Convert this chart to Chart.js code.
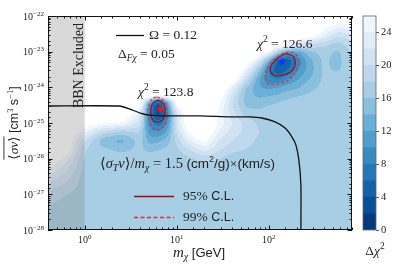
<!DOCTYPE html>
<html>
<head>
<meta charset="utf-8">
<script src="https://cdn.jsdelivr.net/npm/chart.js@4.4.1/dist/chart.umd.min.js"></script>
<style>
  html, body { margin: 0; padding: 0; background: #fff; }
  #wrap { position: relative; width: 404px; height: 269px; overflow: hidden; }
  #main { position: absolute; left: 0; top: 0; }
  #cbar { position: absolute; left: 355px; top: 0; }
</style>
</head>
<body>
<div id="wrap">
  <canvas id="main" width="404" height="269"></canvas>
  <canvas id="cbar" width="49" height="269"></canvas>
</div>
<script>
// Δχ² grid (rows: <σv> top to bottom, columns: mass)
const gridMass = [0.4, 0.63, 1, 1.6, 2.5, 4, 5, 6.3, 7.9, 10, 14, 20, 28, 40, 56, 79, 100, 126, 158, 200, 282, 398, 562, 800];
const gridSigv = [1e-22, 3.2e-23, 1.6e-23, 1e-23, 5.6e-24, 3.2e-24, 1.8e-24, 1e-24, 5.6e-25, 4.5e-25,
                  3.2e-25, 1.8e-25, 1e-25, 5.6e-26, 3.2e-26, 1.8e-26, 1e-26, 3.2e-27, 1e-27, 3.2e-28, 1e-28];
const dchi2 = [
  [30,30,30,30,30,30,30,30,30,30,30,30,30,30,30,30,30,30,30,30,30,30,30,30],
  [30,30,30,30,30,30,30,30,30,30,30,30,30,30,30,30,30,30,30,30,29,25,21,22],
  [30,30,30,30,30,30,30,30,30,30,30,30,30,30,30,30,30,30,28,23,20,18.5,17,19],
  [30,30,30,30,30,30,30,30,30,30,30,30,30,30,30,30,26,18,12,12,15.5,17,15.5,18.5],
  [30,30,30,30,30,30,30,30,30,30,30,30,30,30,30,22,13,4.5,3.5,8,13.5,16.5,15,18.5],
  [30,30,30,30,30,30,30,30,30,30,30,30,30,30,25,16,8,3.5,5.5,9.5,13,16.5,15.5,18],
  [30,30,30,30,30,30,30,30,30,30,30,30,30,30,21,12,8.5,7.5,9.5,11.5,14,16.5,17,18],
  [30,30,30,30,30,30,30,30,30,30,30,30,30,24,16,12,11.5,12,13,13.5,15.5,16.5,17.5,18],
  [30,30,30,30,30,30,30,27,30,30,30,30,29,21,15,13.5,14,14.5,15.5,16,16.5,17,17.5,17.5],
  [30,30,30,30,30,30,17,7,16,30,30,30,28,20.5,15,14.5,15,15.5,16,16.5,17,17,17.3,17.3],
  [30,30,30,30,30,28,9.5,1.5,10,27,30,30,27,20,15.5,15.5,16,16.5,17,17,17,17,17,17],
  [30,30,30,30,30,23,8,2.5,8,21,30,30,25.5,21,17,16.5,17,17,17,17,17,17,17,17],
  [30,30,28,27,26,21,9.2,6.5,10,22,30,30,26,22,19.5,17.5,17.5,17,17,17,17,17,17,17],
  [30,30,24,19,17,18.5,11,10,12.5,20,27,30,24,21,19.5,18,17.5,17,17,17,17,17,17,17],
  [30,29,20,14.5,13,17,13,13.5,15,18.5,24,27,22,20,19,17.5,17,17,17,17,17,17,17,17],
  [30,29,18,16.5,15.5,16.5,15.5,16,16.5,17.5,20,23,20.5,18.5,18,17,17,17,17,17,17,17,17,17],
  [29,25,17.5,17,17,17,17,17,17,17,17.5,18.5,18,17,17,17,17,17,17,17,17,17,17,17],
  [24,21,17,17,17,17,17,17,17,17,17,17,17,17,17,17,17,17,17,17,17,17,17,17],
  [19,18,17,17,17,17,17,17,17,17,17,17,17,17,17,17,17,17,17,17,17,17,17,17],
  [17.5,17,17,17,17,17,17,17,17,17,17,17,17,17,17,17,17,17,17,17,17,17,17,17],
  [17,17,17,17,17,17,17,17,17,17,17,17,17,17,17,17,17,17,17,17,17,17,17,17]
];

// relic abundance line Ω = 0.12
const omegaMass = [0.4, 2.4, 3.1, 4.0, 5.1, 8.4, 18, 38, 62, 84, 117, 150, 178, 197, 212, 223, 223];
const omegaSigv = [3.0e-25, 3.0e-25, 2.45e-25, 1.9e-25, 1.66e-25, 1.58e-25, 1.58e-25, 1.48e-25, 1.48e-25,
                   1.38e-25, 1.07e-25, 7.2e-26, 4.1e-26, 2.4e-26, 9.1e-27, 1.8e-27, 1e-28];

// confidence contours around the two minima
const leftCL95Mass = [6.26, 6.92, 7.36, 7.46, 7.27, 6.74, 6.10, 5.52, 5.25, 5.25, 5.52, 6.26];
const leftCL95Sigv = [4.42e-25, 3.88e-25, 2.99e-25, 2.17e-25, 1.47e-25, 1.14e-25, 1.07e-25, 1.21e-25, 1.67e-25, 2.63e-25, 3.63e-25, 4.42e-25];
const leftCL99Mass = [6.10, 6.92, 7.64, 7.83, 7.64, 6.92, 6.10, 5.39, 5.00, 4.87, 5.12, 5.52, 6.10];
const leftCL99Sigv = [5.36e-25, 4.71e-25, 3.40e-25, 2.03e-25, 1.14e-25, 7.24e-26, 6.37e-26, 7.73e-26, 1.21e-25, 2.17e-25, 3.88e-25, 5.02e-25, 5.36e-25];
const rightCL95Mass = [108.2, 125.7, 149.7, 173.9, 189.8, 192.2, 169.7, 142.5, 116.6, 102.9, 108.2];
const rightCL95Sigv = [4.51e-24, 6.64e-24, 8.59e-24, 8.05e-24, 6.64e-24, 3.96e-24, 2.61e-24, 2.22e-24, 2.15e-24, 3.06e-24, 4.51e-24];
const rightCL99Mass = [90.8, 95.5, 108.2, 132.1, 165.5, 187.5, 204.6, 207.2, 192.2, 165.5, 138.9, 113.7, 95.5, 90.8];
const rightCL99Sigv = [1.83e-24, 3.27e-24, 5.47e-24, 8.05e-24, 9.77e-24, 9.16e-24, 7.08e-24, 4.51e-24, 2.52e-24, 1.61e-24, 1.32e-24, 1.20e-24, 1.32e-24, 1.83e-24];

// best fit points
const bestFitMass = [6.58, 139];
const bestFitSigv = [2.47e-25, 5.2e-24];
const bestFitChi2 = ['123.8', '126.6'];

const bbnLimit = 1; // GeV
const levels = [0, 2, 4, 6, 8, 10, 12, 14, 16, 18, 20, 22, 24, 26];
const cbarTicks = [0, 4, 8, 12, 16, 20, 24];
const xTickExps = [0, 1, 2];
const yTickExps = [-28, -27, -26, -25, -24, -23, -22];

const SERIF = '"Liberation Serif","DejaVu Serif",serif';
const SANS = '"Liberation Sans","DejaVu Sans",sans-serif';
const INK = '#222';

// matplotlib "Blues" anchors, used reversed
const bluesAnchors = [[247,251,255],[222,235,247],[198,219,239],[158,202,225],[107,174,214],[66,146,198],[33,113,181],[8,81,156],[8,48,107]];
function blues(t) {
  t = Math.min(1, Math.max(0, t));
  const f = t * 8, i = Math.min(7, Math.floor(f)), r = f - i;
  const a = bluesAnchors[i], b = bluesAnchors[i + 1];
  return a.map((v, k) => Math.round(v + (b[k] - v) * r));
}
const vmax = levels[levels.length - 1];
const bandColors = levels.slice(0, -1).map((lv, k) => blues(1 - (lv + levels[k + 1]) / 2 / vmax));

function locate(arr, v) {
  const n = arr.length, asc = arr[n - 1] > arr[0];
  for (let k = 0; k < n - 1; k++) {
    const a = arr[k], b = arr[k + 1];
    if ((asc && v <= b) || (!asc && v >= b)) return Math.max(0, k + (v - a) / (b - a));
  }
  return n - 1;
}

function boxBlur(src, w, h, r) {
  const tmp = new Float32Array(w * h), out = new Float32Array(w * h);
  for (let y = 0; y < h; y++) for (let x = 0; x < w; x++) {
    let s = 0, n = 0;
    for (let k = -r; k <= r; k++) { const xx = x + k; if (xx >= 0 && xx < w) { s += src[y * w + xx]; n++; } }
    tmp[y * w + x] = s / n;
  }
  for (let y = 0; y < h; y++) for (let x = 0; x < w; x++) {
    let s = 0, n = 0;
    for (let k = -r; k <= r; k++) { const yy = y + k; if (yy >= 0 && yy < h) { s += tmp[yy * w + x]; n++; } }
    out[y * w + x] = s / n;
  }
  return out;
}

function rich(ctx, x, y, parts, align) {
  let w = 0;
  parts.forEach(p => { ctx.font = p[1]; w += ctx.measureText(p[0]).width; });
  let cx = align === 'center' ? x - w / 2 : align === 'right' ? x - w : x;
  ctx.textAlign = 'left';
  ctx.textBaseline = 'alphabetic';
  parts.forEach(p => {
    ctx.font = p[1];
    ctx.fillText(p[0], cx, y + (p[2] || 0));
    cx += ctx.measureText(p[0]).width;
  });
  return w;
}

function makeStar(color, r) {
  const s = Math.ceil(r * 2 + 2), c = document.createElement('canvas');
  c.width = c.height = s;
  const g = c.getContext('2d');
  g.beginPath();
  for (let i = 0; i < 10; i++) {
    const a = -Math.PI / 2 + i * Math.PI / 5, rr = i % 2 ? r * 0.42 : r;
    g.lineTo(s / 2 + rr * Math.cos(a), s / 2 + rr * Math.sin(a));
  }
  g.closePath();
  g.fillStyle = color;
  g.fill();
  return c;
}

const fieldPlugin = {
  id: 'field',
  beforeDatasetsDraw(chart) {
    const { ctx, chartArea: area } = chart;
    const xs = chart.scales.x, ys = chart.scales.y;
    const W = Math.round(area.right - area.left), H = Math.round(area.bottom - area.top);
    const lx = gridMass.map(Math.log10), ly = gridSigv.map(Math.log10);
    const nx = lx.length, ny = ly.length;
    const raw = new Float32Array(W * H);
    const colPos = [];
    for (let i = 0; i < W; i++) colPos.push(locate(lx, Math.log10(xs.getValueForPixel(area.left + i + 0.5))));
    for (let j = 0; j < H; j++) {
      const fj = locate(ly, Math.log10(ys.getValueForPixel(area.top + j + 0.5)));
      const j0 = Math.min(ny - 2, Math.floor(fj)), tj = fj - j0;
      for (let i = 0; i < W; i++) {
        const fi = colPos[i], i0 = Math.min(nx - 2, Math.floor(fi)), ti = fi - i0;
        const a = dchi2[j0][i0], b = dchi2[j0][i0 + 1], c = dchi2[j0 + 1][i0], d = dchi2[j0 + 1][i0 + 1];
        raw[j * W + i] = (a * (1 - ti) + b * ti) * (1 - tj) + (c * (1 - ti) + d * ti) * tj;
      }
    }
    const val = boxBlur(boxBlur(raw, W, H, 2), W, H, 2);
    const off = document.createElement('canvas');
    off.width = W; off.height = H;
    const octx = off.getContext('2d');
    const img = octx.createImageData(W, H);
    for (let p = 0; p < W * H; p++) {
      const v = val[p];
      let col = [255, 255, 255];
      if (v < vmax) col = bandColors[Math.max(0, Math.floor(v / 2))];
      img.data[p * 4] = col[0]; img.data[p * 4 + 1] = col[1]; img.data[p * 4 + 2] = col[2]; img.data[p * 4 + 3] = 255;
    }
    octx.putImageData(img, 0, 0);
    ctx.drawImage(off, area.left, area.top);

    // BBN excluded band
    const x0 = xs.getPixelForValue(xs.min), x1 = xs.getPixelForValue(bbnLimit);
    ctx.fillStyle = 'rgba(128,128,128,0.3)';
    ctx.fillRect(x0, area.top, x1 - x0, area.bottom - area.top);
  }
};

const decorPlugin = {
  id: 'decor',
  afterDraw(chart) {
    const { ctx, chartArea: a } = chart;
    const xs = chart.scales.x, ys = chart.scales.y;
    ctx.save();
    // frame
    ctx.strokeStyle = '#111';
    ctx.lineWidth = 1;
    ctx.strokeRect(a.left + 0.5, a.top + 0.5, a.right - a.left - 1, a.bottom - a.top - 1);
    // inward ticks on all sides
    const isMajor = v => Math.abs(Math.log10(v) - Math.round(Math.log10(v))) < 1e-6;
    ctx.beginPath();
    xs.ticks.forEach(t => {
      const px = Math.round(xs.getPixelForValue(t.value)) + 0.5, len = isMajor(t.value) ? 4.5 : 2.5;
      ctx.moveTo(px, a.bottom); ctx.lineTo(px, a.bottom - len);
      ctx.moveTo(px, a.top); ctx.lineTo(px, a.top + len);
    });
    ys.ticks.forEach(t => {
      const py = Math.round(ys.getPixelForValue(t.value)) + 0.5, len = isMajor(t.value) ? 4.5 : 2.5;
      ctx.moveTo(a.left, py); ctx.lineTo(a.left + len, py);
      ctx.moveTo(a.right, py); ctx.lineTo(a.right - len, py);
    });
    ctx.stroke();

    ctx.fillStyle = INK;
    // tick labels
    xTickExps.forEach(e => {
      const px = xs.getPixelForValue(Math.pow(10, e));
      rich(ctx, px, 243, [['10', `10px ${SERIF}`], [String(e), `7px ${SERIF}`, -4]], 'center');
    });
    yTickExps.forEach(e => {
      const py = ys.getPixelForValue(Math.pow(10, e));
      rich(ctx, 44, py + 3.5, [['10', `10px ${SERIF}`], ['\u2212' + Math.abs(e), `7px ${SERIF}`, -4]], 'right');
    });

    // axis titles
    rich(ctx, 199, 257, [['m', `italic 15px ${SERIF}`], ['\u03c7', `italic 10px ${SERIF}`, 3], [' [GeV]', `13px ${SANS}`]], 'center');
    ctx.save();
    ctx.translate(18, 123);
    ctx.rotate(-Math.PI / 2);
    const yParts = [['\u27e8', `13.5px ${SERIF}`], ['\u03c3v', `italic 13.5px ${SERIF}`], ['\u27e9', `13.5px ${SERIF}`],
                    [' [cm', `12.5px ${SANS}`], ['3', `8.5px ${SERIF}`, -5], [' s', `12.5px ${SANS}`], ['\u22121', `8.5px ${SERIF}`, -5], [']', `12.5px ${SANS}`]];
    let tot = 0, bar = 0;
    yParts.forEach((p, k) => { ctx.font = p[1]; const w = ctx.measureText(p[0]).width; tot += w; if (k < 3) bar += w; });
    rich(ctx, 0, 0, yParts, 'center');
    ctx.fillRect(-tot / 2, -14.5, bar, 0.9);
    ctx.restore();

    // BBN label
    ctx.save();
    ctx.translate(83, 65.5);
    ctx.rotate(-Math.PI / 2);
    rich(ctx, 0, 0, [['BBN Excluded', `14px ${SERIF}`]], 'center');
    ctx.restore();

    // Ω legend
    ctx.strokeStyle = '#111';
    ctx.lineWidth = 1.3;
    ctx.beginPath(); ctx.moveTo(116, 35.5); ctx.lineTo(144, 35.5); ctx.stroke();
    rich(ctx, 149, 39, [['\u03a9 = 0.12', `13.5px ${SERIF}`]]);
    rich(ctx, 118, 58, [['\u0394', `13.5px ${SERIF}`], ['F\u03c7', `italic 9.5px ${SERIF}`, 3], [' = 0.05', `13.5px ${SERIF}`]]);

    // χ² labels
    const chiParts = s => [['\u03c7', `italic 13.5px ${SERIF}`], ['2', `9.5px ${SERIF}`, -6], [' = ' + s, `13.5px ${SERIF}`]];
    rich(ctx, 138, 96, chiParts(bestFitChi2[0]));
    rich(ctx, 257, 48, chiParts(bestFitChi2[1]));

    // cross-section note and CL legend
    rich(ctx, 100, 167.5, [['\u27e8', `14.5px ${SERIF}`], ['\u03c3', `italic 14.5px ${SERIF}`], ['T', `italic 10px ${SERIF}`, 3],
      ['v', `italic 14.5px ${SERIF}`], ['\u27e9/', `14.5px ${SERIF}`], ['m', `italic 14.5px ${SERIF}`], ['\u03c7', `italic 10px ${SERIF}`, 3],
      [' = 1.5 ', `14.5px ${SERIF}`], ['(cm', `13.5px ${SANS}`], ['2', `9px ${SANS}`, -5.5], ['/g)', `13.5px ${SANS}`],
      ['\u00d7', `13.5px ${SERIF}`], ['(km/s)', `13.5px ${SANS}`]]);
    ctx.lineWidth = 1.4;
    ctx.strokeStyle = '#9e0a14';
    ctx.beginPath(); ctx.moveTo(134, 196.5); ctx.lineTo(174, 196.5); ctx.stroke();
    ctx.strokeStyle = '#d7303c';
    ctx.setLineDash([4, 2.5]);
    ctx.beginPath(); ctx.moveTo(134, 217.5); ctx.lineTo(174, 217.5); ctx.stroke();
    ctx.setLineDash([]);
    rich(ctx, 183, 200, [['95%', `13.5px ${SERIF}`], [' C.L.', `12.5px ${SANS}`]]);
    rich(ctx, 183, 221, [['99%', `13.5px ${SERIF}`], [' C.L.', `12.5px ${SANS}`]]);
    ctx.restore();
  }
};

const toPts = (ms, ss) => ms.map((m, i) => ({ x: m, y: ss[i] }));
const contour = (ms, ss, color, dash) => ({
  data: toPts(ms, ss), showLine: true, pointRadius: 0, borderColor: color, borderWidth: 1.1,
  borderDash: dash, tension: 0.35, fill: false
});

new Chart(document.getElementById('main'), {
  type: 'scatter',
  data: {
    datasets: [
      { data: toPts(omegaMass, omegaSigv), showLine: true, pointRadius: 0, borderColor: '#111', borderWidth: 1.3, tension: 0.2, fill: false },
      contour(leftCL95Mass, leftCL95Sigv, '#9e0a14', []),
      contour(leftCL99Mass, leftCL99Sigv, '#d7303c', [3, 2]),
      contour(rightCL95Mass, rightCL95Sigv, '#9e0a14', []),
      contour(rightCL99Mass, rightCL99Sigv, '#d7303c', [3, 2]),
      { data: [{ x: bestFitMass[0], y: bestFitSigv[0] }], pointStyle: makeStar('#ff1010', 4.5), pointRadius: 5 },
      { data: [{ x: bestFitMass[1], y: bestFitSigv[1] }], pointStyle: makeStar('#1030ff', 4.5), pointRadius: 5 }
    ]
  },
  options: {
    responsive: false,
    animation: false,
    layout: { padding: { left: 0, top: 16, right: 52, bottom: 0 } },
    plugins: { legend: { display: false }, tooltip: { enabled: false } },
    scales: {
      x: {
        type: 'logarithmic', min: 0.4, max: 800, position: 'bottom',
        grid: { display: false }, border: { display: false }, ticks: { display: false },
        afterFit: s => { s.height = 39; }
      },
      y: {
        type: 'logarithmic', min: 1e-28, max: 1e-22,
        grid: { display: false }, border: { display: false }, ticks: { display: false },
        afterFit: s => { s.width = 48; }
      }
    }
  },
  plugins: [fieldPlugin, decorPlugin]
});

// colour bar
const cbarPlugin = {
  id: 'cbarFrame',
  afterDraw(chart) {
    const { ctx, chartArea: a } = chart;
    ctx.save();
    ctx.strokeStyle = '#666';
    ctx.lineWidth = 0.8;
    ctx.strokeRect(a.left, a.top, a.right - a.left, a.bottom - a.top);
    ctx.fillStyle = INK;
    rich(ctx, 20, 255, [['\u0394', `13.5px ${SERIF}`], ['\u03c7', `italic 13.5px ${SERIF}`], ['2', `9.5px ${SERIF}`, -6]], 'center');
    ctx.restore();
  }
};

new Chart(document.getElementById('cbar'), {
  type: 'bar',
  data: {
    labels: [''],
    datasets: bandColors.map((c, k) => ({
      data: [levels[k + 1] - levels[k]],
      backgroundColor: `rgb(${c[0]},${c[1]},${c[2]})`,
      borderWidth: 0, barPercentage: 1, categoryPercentage: 1, stack: 's'
    }))
  },
  options: {
    responsive: false,
    animation: false,
    layout: { padding: { left: 8, top: 16, bottom: 39, right: 0 } },
    plugins: { legend: { display: false }, tooltip: { enabled: false } },
    scales: {
      x: { stacked: true, display: false },
      y: {
        stacked: true, min: levels[0], max: vmax, position: 'right',
        afterBuildTicks: s => { s.ticks = cbarTicks.map(v => ({ value: v })); },
        ticks: { font: { family: SERIF, size: 10.5 }, color: INK, padding: 2 },
        grid: { drawOnChartArea: false, drawTicks: true, tickLength: 3, color: '#333', lineWidth: 0.8 },
        border: { display: false },
        afterFit: s => { s.width = 28; }
      }
    }
  },
  plugins: [cbarPlugin]
});
</script>
</body>
</html>
